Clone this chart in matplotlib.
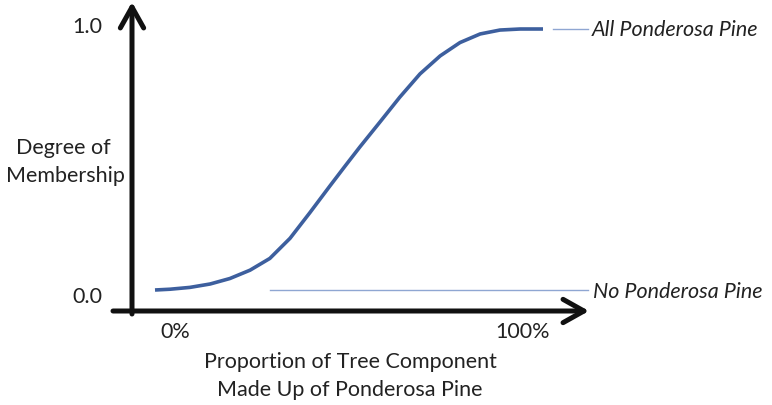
import numpy as np
import matplotlib
matplotlib.use('Agg')
import matplotlib.pyplot as plt

'''
Fuzzy membership curve for ponderosa pine proportion
'''

# points: proportion (0-1) vs degree of membership
proportion = [0.0, 0.039, 0.090, 0.142, 0.193, 0.245, 0.296, 0.348, 0.399,
              0.451, 0.490, 0.528, 0.580, 0.631, 0.683, 0.735, 0.786, 0.838,
              0.889, 0.941, 1.0]
membership = [0.0, 0.003, 0.010, 0.023, 0.044, 0.076, 0.121, 0.198, 0.296,
              0.399, 0.475, 0.548, 0.644, 0.739, 0.828, 0.897, 0.948, 0.981,
              0.996, 1.0, 1.0]

y_ticks = [0.0, 1.0]
y_tick_labels = ['0.0', '1.0']
x_tick_labels = ['0%', '100%']

W, H = 772, 406
plt.rcParams['font.family'] = ['Lato', 'DejaVu Sans']
TXT = '#222222'

fig = plt.figure(figsize=(W / 100, H / 100), dpi=100)
ax = fig.add_axes([0, 0, 1, 1])
# pixel layout: x=0 at px 155, x=1 at px 543; y=0 at px 291, y=1 at px 30
x0, x1 = 155, 543
y0, y1 = 291, 30
ax.set_xlim(-x0 / (x1 - x0), (W - x0) / (x1 - x0))
ax.set_ylim((y0 - H) / (y0 - y1), y0 / (y0 - y1))
ax.axis('off')


def dx(p):
    return (p - x0) / (x1 - x0)


def dy(p):
    return (y0 - p) / (y0 - y1)


# axes arrows
arrow = dict(arrowstyle='->,head_length=0.75,head_width=0.42', lw=3.6,
             color='#111111', mutation_scale=20, shrinkA=0, shrinkB=0)
ax.annotate('', xy=(dx(132), dy(3)), xytext=(dx(132), dy(315)), arrowprops=arrow)
ax.annotate('', xy=(dx(589), dy(312)), xytext=(dx(113), dy(312)), arrowprops=arrow)

# membership curve
ax.plot(proportion, membership, color='#3d5f9e', lw=2.6,
        solid_capstyle='butt', solid_joinstyle='round')

# reference lines
ax.plot([dx(270), dx(588)], [0, 0], color='#8fa6d2', lw=1.0)
ax.plot([dx(553), dx(588)], [1, 1], color='#8fa6d2', lw=1.0)

fs = 15.5
for v, lab in zip(y_ticks, y_tick_labels):
    ax.text(dx(87), v + (0.01 if v else -0.022), lab, ha='center', va='center',
            fontsize=fs, color=TXT)
ax.text(dx(175), dy(332), x_tick_labels[0], ha='center', va='center', fontsize=fs, color=TXT)
ax.text(dx(523), dy(332), x_tick_labels[1], ha='center', va='center', fontsize=fs, color=TXT)

ax.text(dx(63), dy(148), 'Degree of', ha='center', va='center', fontsize=fs, color=TXT)
ax.text(dx(65), dy(176), 'Membership', ha='center', va='center', fontsize=fs, color=TXT)

ax.text(dx(350), dy(362), 'Proportion of Tree Component', ha='center', va='center',
        fontsize=fs, color=TXT)
ax.text(dx(350), dy(390), 'Made Up of Ponderosa Pine', ha='center', va='center',
        fontsize=fs, color=TXT)

ax.text(dx(592), dy(30), 'All Ponderosa Pine', ha='left', va='center',
        fontsize=fs, style='italic', color=TXT)
ax.text(dx(593), dy(292), 'No Ponderosa Pine', ha='left', va='center',
        fontsize=fs, style='italic', color=TXT)

plt.savefig('out.png', dpi=100)
